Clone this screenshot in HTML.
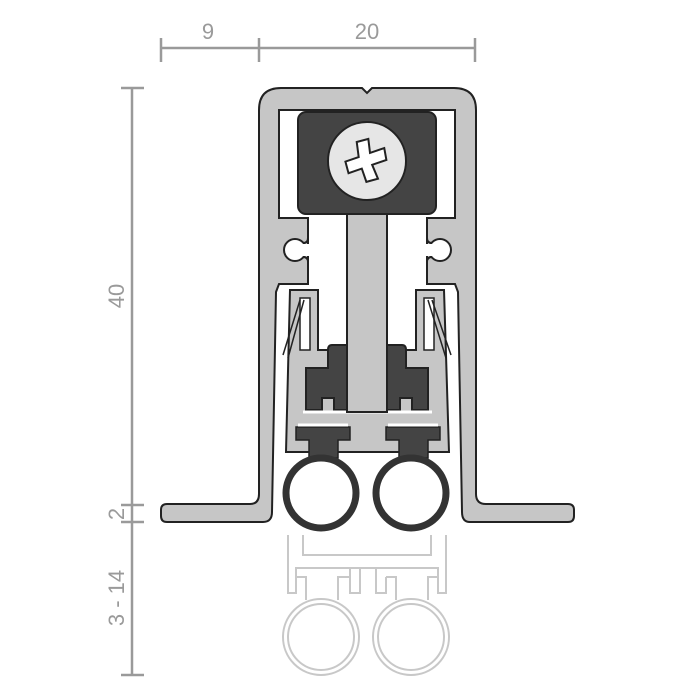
<!DOCTYPE html>
<html><head><style>html,body{margin:0;padding:0;background:#fff;width:700px;height:700px;overflow:hidden}</style></head>
<body>
<svg width="700" height="700" viewBox="0 0 700 700" xmlns="http://www.w3.org/2000/svg">
<!-- dimensions -->
<g stroke="#9a9a9a" stroke-width="2.5" fill="none">
<line x1="161" y1="48" x2="475" y2="48"/>
<line x1="161" y1="38" x2="161" y2="62"/>
<line x1="259" y1="38" x2="259" y2="62"/>
<line x1="475" y1="38" x2="475" y2="62"/>
<line x1="132" y1="88" x2="132" y2="675"/>
<line x1="121" y1="88" x2="144" y2="88"/>
<line x1="121" y1="505" x2="144" y2="505"/>
<line x1="121" y1="522" x2="144" y2="522"/>
<line x1="121" y1="675" x2="144" y2="675"/>
</g>
<g fill="#9a9a9a" font-family="Liberation Sans, sans-serif" font-size="22">
<text x="208" y="39" text-anchor="middle">9</text>
<text x="367" y="39" text-anchor="middle">20</text>
<text transform="translate(124,296) rotate(-90)" text-anchor="middle">40</text>
<text transform="translate(124,514) rotate(-90)" text-anchor="middle">2</text>
<text transform="translate(124,598) rotate(-90)" text-anchor="middle">3 - 14</text>
</g>
<!-- ghost lower -->
<g stroke="#c8c8c8" stroke-width="2" fill="none">
<path d="M288,535 V593 H296 V577 H306 V600 M446,535 V593 H438 V577 H428 V600"/>
<path d="M303,535 V555 H431 V535"/>
<path d="M296,577 V568 H350 V577 H338 V600 M350,568 H386 M350,577 V593 H360 V568 M376,568 V593 H386 V577 M386,568 H438 V577 M386,577 H396 V600"/>
<circle cx="321" cy="637" r="38"/><circle cx="321" cy="637" r="33"/>
<circle cx="411" cy="637" r="38"/><circle cx="411" cy="637" r="33"/>
</g>
<!-- housing -->
<path d="M167,504 H250 Q259,504 259,494 V110 Q259,88 281,88 H362 L367,93 L372,88 H454 Q476,88 476,110 V494 Q476,504 486,504 H568 Q574,504 574,510 V516 Q574,522 568,522 H470 Q462,522 462,512 L458,292 L455,284 H427 V218 H455 V110 H279 V218 H308 V284 H279 L276,292 L272,512 Q272,522 263,522 H167 Q161,522 161,516 V510 Q161,504 167,504 Z" fill="#c6c6c6" stroke="#222" stroke-width="2"/>
<!-- clip notches -->
<circle cx="295" cy="250" r="11" fill="#fff" stroke="#222" stroke-width="2"/>
<circle cx="440" cy="250" r="11" fill="#fff" stroke="#222" stroke-width="2"/>
<rect x="297" y="244" width="13" height="12" fill="#fff"/>
<rect x="425" y="244" width="13" height="12" fill="#fff"/>
<path d="M308,218 V238 Q308,243 303,243 M303,257 Q308,257 308,262 V284 M427,218 V238 Q427,243 432,243 M432,257 Q427,257 427,262 V284" stroke="#222" stroke-width="2" fill="none"/>
<!-- slider profile -->
<path d="M290,290 H318 V350 H416 V290 H444 L449,452 H286 Z" fill="#c6c6c6" stroke="#222" stroke-width="2"/>
<path d="M300,298 H310 V350 H300 Z M424,298 H434 V350 H424 Z" fill="#fff" stroke="#222" stroke-width="1.5"/>
<!-- springs -->
<g stroke="#222" stroke-width="1.5" fill="none">
<path d="M300,300 L283,355 M304,300 L288,358 M432,300 L451,355 M428,300 L446,358"/>
</g>
<!-- dark clamp -->
<path d="M332,345 H402 Q406,345 406,350 V368 H428 V410 H412 V398 H400 V410 H334 V398 H322 V410 H306 V368 H328 V350 Q328,345 332,345 Z" fill="#444" stroke="#222" stroke-width="2"/>
<path d="M303,412 H432" stroke="#fff" stroke-width="3"/>
<!-- stem -->
<rect x="347" y="212" width="40" height="200" fill="#c6c6c6" stroke="#222" stroke-width="2"/>
<!-- top block -->
<rect x="298" y="112" width="138" height="102" rx="8" fill="#444" stroke="#222" stroke-width="2"/>
<circle cx="367" cy="161" r="39" fill="#e6e6e6" stroke="#222" stroke-width="2"/>
<path d="M362,140 L374,140 L372,154 L387,153 L386,165 L371,166 L373,181 L361,181 L360,167 L346,168 L346,156 L360,155 Z" fill="#fff" stroke="#222" stroke-width="2" transform="rotate(-15 367 161)"/>
<!-- seals -->
<g fill="#444" stroke="#222" stroke-width="1.5">
<path d="M296,427 H350 V440 H338 V458 H309 V440 H296 Z"/>
<path d="M386,427 H440 V440 H428 V458 H399 V440 H386 Z"/>
</g>
<path d="M298,425 H348 M388,425 H438" stroke="#fff" stroke-width="3"/>
<circle cx="321" cy="493" r="35" fill="#fff" stroke="#333" stroke-width="7"/>
<circle cx="411" cy="493" r="35" fill="#fff" stroke="#333" stroke-width="7"/>
</svg>
</body></html>
